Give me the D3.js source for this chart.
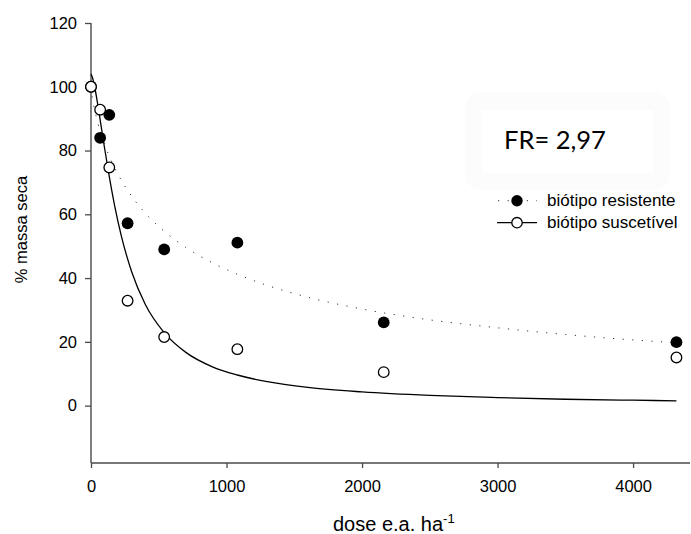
<!DOCTYPE html>
<html>
<head>
<meta charset="utf-8">
<script src="https://cdn.jsdelivr.net/npm/d3@7"></script>
<style>
  html, body { margin: 0; padding: 0; background: #fff; }
  svg { display: block; }
  text { font-family: "Liberation Sans", Arial, sans-serif; fill: #000; }
</style>
</head>
<body>
<svg id="chart" width="691" height="534"></svg>
<script>
// ---- data ----
const doses = [0, 67.5, 135, 270, 540, 1080, 2160, 4320];
const resistente = [100, 84.0, 91.2, 57.2, 49.0, 51.1, 26.1, 19.9];
const suscetivel = [100, 92.8, 74.7, 32.9, 21.5, 17.7, 10.5, 15.1];

const curveDoses = [0, 10, 25, 50, 75, 100, 135, 175, 225, 300, 400, 540, 700, 900, 1080, 1300, 1600, 2000, 2500, 3000, 3500, 4000, 4320];
const fitResistente = [100, 96.5, 93.1, 88.7, 85.1, 82.0, 78.2, 74.6, 70.6, 65.7, 60.4, 54.7, 49.6, 44.7, 41.2, 37.7, 34.0, 30.3, 26.9, 24.4, 22.3, 20.6, 19.7];
const fitSuscetivel = [104, 103, 100.4, 94.4, 87.6, 80.8, 71.8, 62.6, 53.0, 42.0, 31.8, 22.9, 16.7, 12.1, 9.6, 7.5, 5.7, 4.3, 3.2, 2.5, 2.0, 1.7, 1.5];

const xTicks = [0, 1000, 2000, 3000, 4000];
const yTicks = [0, 20, 40, 60, 80, 100, 120];
const seriesNames = ["biótipo resistente", "biótipo suscetível"];
const xTitle = "dose e.a. ha";
const xTitleSup = "-1";
const yTitle = "% massa seca";
const annotation = "FR= 2,97";

// ---- layout ----
const svg = d3.select("#chart");
const x = d3.scaleLinear().domain([0, 4420]).range([91, 690]);
const y = d3.scaleLinear().domain([-18, 120]).range([463, 23]);
const axisColor = "#4a4a4a";

// annotation box (very faint shadow)
svg.append("rect").attr("x", 465).attr("y", 92).attr("width", 205).attr("height", 98)
  .attr("rx", 16).attr("fill", "#fcfcfc");
svg.append("rect").attr("x", 482).attr("y", 110).attr("width", 171).attr("height", 63)
  .attr("fill", "#ffffff");
svg.append("text").attr("x", 504).attr("y", 149)
  .style("font-family", "Lato, 'Open Sans', sans-serif").style("font-size", "25.5px")
  .text(annotation);

// axes
const xAxis = svg.append("g").attr("transform", `translate(0,${y(-18)})`)
  .call(d3.axisBottom(x).tickValues(xTicks).tickSize(5).tickPadding(12).tickFormat(d3.format("d")));
const yAxis = svg.append("g").attr("transform", `translate(${x(0)},0)`)
  .call(d3.axisLeft(y).tickValues(yTicks).tickSize(6).tickPadding(8).tickFormat(d3.format("d")));
[xAxis, yAxis].forEach(g => {
  g.select(".domain").attr("stroke", axisColor).attr("stroke-width", 1.4);
  g.selectAll(".tick line").attr("stroke", axisColor).attr("stroke-width", 1.3);
  g.selectAll(".tick text").style("font-family", "'Liberation Sans', Arial, sans-serif")
    .style("font-size", "16.5px").attr("fill", "#000");
});
xAxis.select(".domain").attr("d", `M${x(0)},0H${x(4420)}`);
yAxis.select(".domain").attr("d", `M0,${y(120)}V${y(-18)}`);

// axis titles
const xt = svg.append("text").attr("x", 333).attr("y", 531).style("font-size", "20px");
xt.append("tspan").text(xTitle);
xt.append("tspan").attr("dy", -8).style("font-size", "13px").text(xTitleSup);

svg.append("text").attr("transform", "translate(27,229.5) rotate(-90)")
  .attr("text-anchor", "middle").style("font-size", "16.5px").text(yTitle);

// fitted curves
const line = d3.line().x(d => x(d[0])).y(d => y(d[1])).curve(d3.curveMonotoneX);
svg.append("path").datum(curveDoses.map((d, i) => [d, fitResistente[i]]))
  .attr("d", line).attr("fill", "none").attr("stroke", "#333")
  .attr("stroke-width", 1).attr("stroke-dasharray", "1.2 8.4");
svg.append("path").datum(curveDoses.map((d, i) => [d, fitSuscetivel[i]]))
  .attr("d", line).attr("fill", "none").attr("stroke", "#000")
  .attr("stroke-width", 1.3);

// points
svg.append("g").selectAll("circle").data(doses.map((d, i) => [d, resistente[i]]))
  .join("circle").attr("cx", d => x(d[0])).attr("cy", d => y(d[1])).attr("r", 5.9)
  .attr("fill", "#000");
svg.append("g").selectAll("circle").data(doses.map((d, i) => [d, suscetivel[i]]))
  .join("circle").attr("cx", d => x(d[0])).attr("cy", d => y(d[1])).attr("r", 5.3)
  .attr("fill", "#fff").attr("stroke", "#000").attr("stroke-width", 1.3);

// legend
const leg = svg.append("g");
const legY = [200.7, 222.7];
leg.append("line").attr("x1", 497).attr("x2", 537).attr("y1", legY[0]).attr("y2", legY[0])
  .attr("stroke", "#333").attr("stroke-width", 1).attr("stroke-dasharray", "1.2 8.4")
  .attr("stroke-dashoffset", -1);
leg.append("circle").attr("cx", 517).attr("cy", legY[0]).attr("r", 5.7).attr("fill", "#000");
leg.append("line").attr("x1", 497).attr("x2", 537).attr("y1", legY[1]).attr("y2", legY[1])
  .attr("stroke", "#000").attr("stroke-width", 1.3);
leg.append("circle").attr("cx", 517).attr("cy", legY[1]).attr("r", 5.2)
  .attr("fill", "#fff").attr("stroke", "#000").attr("stroke-width", 1.3);
seriesNames.forEach((s, i) => {
  leg.append("text").attr("x", 547).attr("y", legY[i] + 5.5).style("font-size", "17px").text(s);
});
</script>
</body>
</html>
